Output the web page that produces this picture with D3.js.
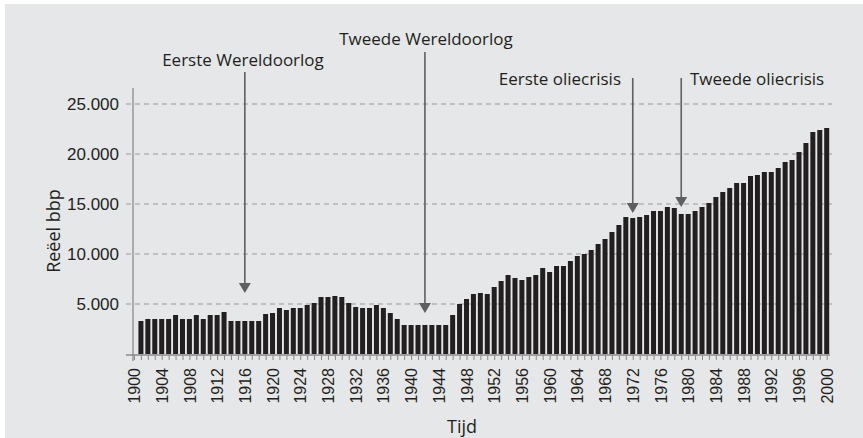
<!doctype html>
<html lang="nl">
<head>
<meta charset="utf-8">
<title>Reëel bbp 1901-2000</title>
<style>
    body { margin: 0; background: #fff; }
    svg { display: block; font-family: "Open Sans", sans-serif; }
    .axis text { fill: #231f20; font-size: 16px; }
    .yaxis text { font-size: 17px; }
    .grid line { stroke: #9a9a9a; stroke-width: 1.2; stroke-dasharray: 5, 4; }
</style>
</head>
<body>
<svg id="chart" width="863" height="438"></svg>

<script src="https://d3js.org/d3.v7.min.js"></script>
<script>

    let years = d3.range(1901, 2001);
    let gdp = [
        3300, 3500, 3500, 3500, 3500, 3900, 3500, 3500, 3900, 3500,   // 1901-1910
        3900, 3900, 4200, 3300, 3300, 3300, 3300, 3300, 4000, 4100,   // 1911-1920
        4600, 4400, 4600, 4600, 4900, 5100, 5700, 5700, 5800, 5700,   // 1921-1930
        5100, 4700, 4600, 4600, 4900, 4600, 4100, 3500, 2900, 2900,   // 1931-1940
        2900, 2900, 2900, 2900, 2900, 3900, 5000, 5500, 6000, 6100,   // 1941-1950
        6000, 6700, 7300, 7900, 7600, 7400, 7700, 7900, 8600, 8200,   // 1951-1960
        8800, 8800, 9300, 9800, 10000, 10400, 11000, 11500, 12200, 12900, // 1961-1970
        13700, 13600, 13700, 13900, 14300, 14300, 14700, 14600, 14000, 14000, // 1971-1980
        14300, 14700, 15100, 15700, 16200, 16600, 17100, 17100, 17800, 17900, // 1981-1990
        18200, 18200, 18600, 19200, 19400, 20200, 21100, 22200, 22400, 22600  // 1991-2000
    ];
    let yTicks = [5000, 10000, 15000, 20000, 25000];

    // annotaties
    let annoLabels = ["Eerste Wereldoorlog", "Tweede Wereldoorlog", "Eerste oliecrisis", "Tweede oliecrisis"];
    let annoYears = [1916, 1942, 1972, 1979];
    let annoTip = [6100, 4100, 14100, 14700];

    let svg = d3.select("#chart");

    svg.append("rect")
        .attr("x", 5).attr("y", 4)
        .attr("width", 858).attr("height", 434)
        .attr("fill", "#e6e7e8");

    let x = d3.scaleLinear().domain([1900, 2000]).range([134, 826.7]);
    let y = d3.scaleLinear().domain([0, 25000]).range([354, 104]);

    let nl = d3.formatLocale({decimal: ",", thousands: ".", grouping: [3], currency: ["€", ""]});
    let fmt = nl.format(",");

    // gridlines
    svg.append("g")
        .attr("class", "grid")
        .selectAll("line")
        .data(yTicks).enter()
        .append("line")
        .attr("x1", 126).attr("x2", 832)
        .attr("y1", d => y(d)).attr("y2", d => y(d));

    // bars
    let barW = 5;
    svg.append("g")
        .selectAll("rect")
        .data(years).enter()
        .append("rect")
        .attr("x", d => x(d) - barW / 2)
        .attr("width", barW)
        .attr("y", (d, i) => y(gdp[i]))
        .attr("height", (d, i) => y(0) - y(gdp[i]))
        .attr("fill", "#231f20");

    // y axis
    let yAxis = svg.append("g")
        .attr("class", "axis yaxis")
        .attr("transform", "translate(133,0)")
        .call(d3.axisLeft(y).tickValues(yTicks).tickFormat(fmt).tickSize(0).tickPadding(14));
    yAxis.select(".domain").remove();
    svg.append("line")
        .attr("x1", 133).attr("x2", 133)
        .attr("y1", 88).attr("y2", 361)
        .attr("stroke", "#8a8a8a").attr("stroke-width", 1.3);

    // x axis
    let xAxis = svg.append("g")
        .attr("class", "axis")
        .attr("transform", "translate(0,355)")
        .call(d3.axisBottom(x)
            .tickValues(d3.range(1900, 2001))
            .tickSize(5)
            .tickFormat(d => d % 4 === 0 ? d : ""));
    xAxis.select(".domain").remove();
    xAxis.selectAll(".tick line").attr("stroke", "#8a8a8a");
    xAxis.selectAll(".tick text")
        .attr("transform", "rotate(-90)")
        .attr("x", -13)
        .attr("y", 0)
        .attr("dy", "0.35em")
        .style("text-anchor", "end");
    svg.append("line")
        .attr("x1", 126).attr("x2", 830)
        .attr("y1", 355).attr("y2", 355)
        .attr("stroke", "#8a8a8a").attr("stroke-width", 1.3);

    // axis titles
    svg.append("text")
        .attr("transform", "translate(60,231) rotate(-90)")
        .attr("text-anchor", "middle")
        .attr("font-size", 18)
        .attr("fill", "#231f20")
        .text("Reëel bbp");
    svg.append("text")
        .attr("x", 462).attr("y", 433)
        .attr("text-anchor", "middle")
        .attr("font-size", 18)
        .attr("fill", "#231f20")
        .text("Tijd");

    // arrows
    let lineTop = [72, 52, 78, 78];
    let labelX = [243, 426, 621, 690];
    let labelY = [66, 45, 85, 85];
    let anchors = ["middle", "middle", "end", "start"];

    let anno = svg.append("g");
    annoYears.forEach(function (yr, i) {
        let ax = x(yr);
        let tip = y(annoTip[i]);
        anno.append("line")
            .attr("x1", ax).attr("x2", ax)
            .attr("y1", lineTop[i]).attr("y2", tip - 6)
            .attr("stroke", "#5f5f5f").attr("stroke-width", 1.6);
        anno.append("path")
            .attr("d", "M" + (ax - 6) + "," + (tip - 10) + "L" + (ax + 6) + "," + (tip - 10) + "L" + ax + "," + tip + "Z")
            .attr("fill", "#5f5f5f");
        anno.append("text")
            .attr("x", labelX[i]).attr("y", labelY[i])
            .attr("text-anchor", anchors[i])
            .attr("font-size", 17)
            .attr("fill", "#231f20")
            .text(annoLabels[i]);
    });

</script>
</body>
</html>
